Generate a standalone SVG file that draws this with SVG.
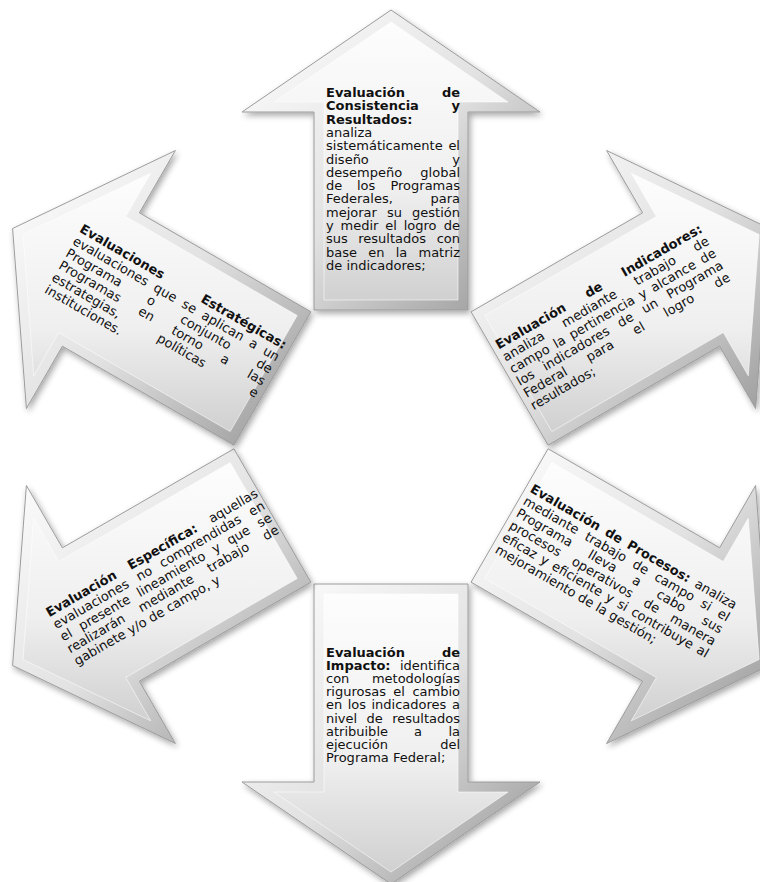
<svg xmlns="http://www.w3.org/2000/svg" width="760" height="882" viewBox="0 0 760 882">
<defs>
<linearGradient id="rim" x1="0" y1="0" x2="1" y2="1">
<stop offset="0" stop-color="#ffffff"/>
<stop offset="0.5" stop-color="#e2e2e2"/>
<stop offset="1" stop-color="#939393"/>
</linearGradient>
<linearGradient id="face" x1="0" y1="0" x2="0" y2="1">
<stop offset="0" stop-color="#fdfdfd"/>
<stop offset="0.6" stop-color="#efefef"/>
<stop offset="1" stop-color="#d0d0d0"/>
</linearGradient>
<filter id="sh" x="-10%" y="-10%" width="130%" height="130%">
<feGaussianBlur in="SourceAlpha" stdDeviation="3"/>
<feOffset dx="2" dy="3"/>
<feComponentTransfer><feFuncA type="linear" slope="0.35"/></feComponentTransfer>
<feMerge><feMergeNode/><feMergeNode in="SourceGraphic"/></feMerge>
</filter>
</defs>
<style>
.o{fill:url(#rim);stroke:#9c9c9c;stroke-width:1;filter:url(#sh)}
.i{fill:url(#face);stroke:#ffffff;stroke-width:0.8;stroke-opacity:0.7}
text{font-family:"DejaVu Sans",Verdana,sans-serif;font-size:13px;fill:#111111}
.b{font-weight:bold}
.e{text-anchor:end}
</style>
<rect width="760" height="882" fill="#ffffff"/>
<g id="connectors"/>

<g id="eval-consistencia">
<polygon class="o" points="314,310 468,310 468,112 540,112 391,10 242,112 314,112"/>
<polygon class="i" points="324,300 458,300 458,102 508,102 391,22 274,102 324,102"/>
<text class="b" x="326" y="97">Evaluación</text><text class="b e" x="460" y="97">de</text>
<text class="b" x="326" y="110.3">Consistencia</text><text class="b e" x="460" y="110.3">y</text>
<text class="b" x="326" y="123.6">Resultados:</text>
<text x="326" y="136.9">analiza</text>
<text x="326" y="150.2">sistemáticamente</text><text class="e" x="460" y="150.2">el</text>
<text x="326" y="163.5">diseño</text><text class="e" x="460" y="163.5">y</text>
<text x="326" y="176.8">desempeño</text><text class="e" x="460" y="176.8">global</text>
<text x="326" y="190.1" word-spacing="10.5">de los</text><text class="e" x="460" y="190.1">Programas</text>
<text x="326" y="203.4">Federales,</text><text class="e" x="460" y="203.4">para</text>
<text x="326" y="216.7" word-spacing="5.9">mejorar su</text><text class="e" x="460" y="216.7">gestión</text>
<text x="326" y="230" word-spacing="2.7">y medir el logro</text><text class="e" x="460" y="230">de</text>
<text x="326" y="243.3" word-spacing="6.3">sus resultados</text><text class="e" x="460" y="243.3">con</text>
<text x="326" y="256.6" word-spacing="7.1">base en la</text><text class="e" x="460" y="256.6">matriz</text>
<text x="326" y="269.9">de indicadores;</text>
</g>

<g id="eval-indicadores">
<polygon class="o" points="471.1,311.8 548.1,445.2 719.6,346.2 755.6,408.5 769.4,228.5 606.6,150.5 642.6,212.8"/>
<polygon class="i" points="484.8,315.5 551.8,431.5 723.3,332.5 748.3,375.8 759.1,234.5 631.3,173.2 656.3,216.5"/>
<g transform="translate(616.2,317) rotate(-30)">
<text class="b" x="-118" y="-30.5" word-spacing="19.6">Evaluación de</text><text class="b e" x="118" y="-30.5">Indicadores:</text>
<text x="-118" y="-16.5" word-spacing="17.7">analiza mediante trabajo</text><text class="e" x="118" y="-16.5">de</text>
<text x="-118" y="-2.5" word-spacing="2.4">campo la pertinencia y alcance</text><text class="e" x="118" y="-2.5">de</text>
<text x="-118" y="11.5" word-spacing="7.5">los indicadores de un</text><text class="e" x="118" y="11.5">Programa</text>
<text x="-118" y="25.5" word-spacing="20.1">Federal para el logro</text><text class="e" x="118" y="25.5">de</text>
<text x="-118" y="39.5">resultados;</text>
</g>
</g>

<g id="eval-procesos">
<polygon class="o" points="548.1,448.8 471.1,582.2 642.6,681.2 606.6,743.5 769.4,665.5 755.6,485.5 719.6,547.8"/>
<polygon class="i" points="551.8,462.5 484.8,578.5 656.3,677.5 631.3,720.8 759.1,659.5 748.3,518.2 723.3,561.5"/>
<g transform="translate(616.2,577) rotate(30)">
<text class="b" x="-118" y="-30.5" word-spacing="2.8">Evaluación de Procesos:</text><text class="e" x="118" y="-30.5">analiza</text>
<text x="-118" y="-16.5" word-spacing="5">mediante trabajo de campo si</text><text class="e" x="118" y="-16.5">el</text>
<text x="-118" y="-2.5" word-spacing="16">Programa lleva a cabo</text><text class="e" x="118" y="-2.5">sus</text>
<text x="-118" y="11.5" word-spacing="10.1">procesos operativos de</text><text class="e" x="118" y="11.5">manera</text>
<text x="-118" y="25.5" word-spacing="1.6">eficaz y eficiente y si contribuye</text><text class="e" x="118" y="25.5">al</text>
<text x="-118" y="39.5">mejoramiento de la gestión;</text>
</g>
</g>

<g id="eval-impacto">
<polygon class="o" points="468,584 314,584 314,782 242,782 391,884 540,782 468,782"/>
<polygon class="i" points="458,594 324,594 324,792 274,792 391,872 508,792 458,792"/>
<text class="b" x="326" y="657">Evaluación</text><text class="b e" x="460" y="657">de</text>
<text class="b" x="326" y="670.1">Impacto:</text><text class="e" x="460" y="670.1">identifica</text>
<text x="326" y="683.2">con</text><text class="e" x="460" y="683.2">metodologías</text>
<text x="326" y="696.3" word-spacing="3.1">rigurosas el</text><text class="e" x="460" y="696.3">cambio</text>
<text x="326" y="709.4" word-spacing="1.3">en los indicadores</text><text class="e" x="460" y="709.4">a</text>
<text x="326" y="722.5" word-spacing="5.1">nivel de</text><text class="e" x="460" y="722.5">resultados</text>
<text x="326" y="735.6" word-spacing="22">atribuible a</text><text class="e" x="460" y="735.6">la</text>
<text x="326" y="748.7">ejecución</text><text class="e" x="460" y="748.7">del</text>
<text x="326" y="761.8">Programa Federal;</text>
</g>

<g id="eval-especifica">
<polygon class="o" points="310.9,582.2 233.9,448.8 62.4,547.8 26.4,485.5 12.6,665.5 175.4,743.5 139.4,681.2"/>
<polygon class="i" points="297.2,578.5 230.2,462.5 58.7,561.5 33.7,518.2 23,659.5 150.7,720.8 125.7,677.5"/>
<g transform="translate(165.8,577) rotate(-30)">
<text class="b" x="-121" y="-23.5" word-spacing="10.6">Evaluación Específica:</text><text class="e" x="121" y="-23.5">aquellas</text>
<text x="-121" y="-9.5" word-spacing="6.5">evaluaciones no comprendidas</text><text class="e" x="121" y="-9.5">en</text>
<text x="-121" y="4.5" word-spacing="5.6">el presente lineamiento y que</text><text class="e" x="121" y="4.5">se</text>
<text x="-121" y="18.5" word-spacing="13.5">realizarán mediante trabajo</text><text class="e" x="121" y="18.5">de</text>
<text x="-121" y="32.5">gabinete y/o de campo, y</text>
</g>
</g>

<g id="eval-estrategicas">
<polygon class="o" points="233.9,445.2 310.9,311.8 139.4,212.8 175.4,150.5 12.6,228.5 26.4,408.5 62.4,346.2"/>
<polygon class="i" points="230.2,431.5 297.2,315.5 125.7,216.5 150.7,173.2 23,234.5 33.7,375.8 58.7,332.5"/>
<g transform="translate(165.8,317) rotate(30)">
<text class="b" x="-118" y="-30.5">Evaluaciones</text><text class="b e" x="118" y="-30.5">Estratégicas:</text>
<text x="-118" y="-16.5" word-spacing="3.9">evaluaciones que se aplican a</text><text class="e" x="118" y="-16.5">un</text>
<text x="-118" y="-2.5" word-spacing="26.5">Programa o conjunto</text><text class="e" x="118" y="-2.5">de</text>
<text x="-118" y="11.5" word-spacing="18">Programas en torno a</text><text class="e" x="118" y="11.5">las</text>
<text x="-118" y="25.5" word-spacing="40.4">estrategias, políticas</text><text class="e" x="118" y="25.5">e</text>
<text x="-118" y="39.5">instituciones.</text>
</g>
</g>
</svg>
